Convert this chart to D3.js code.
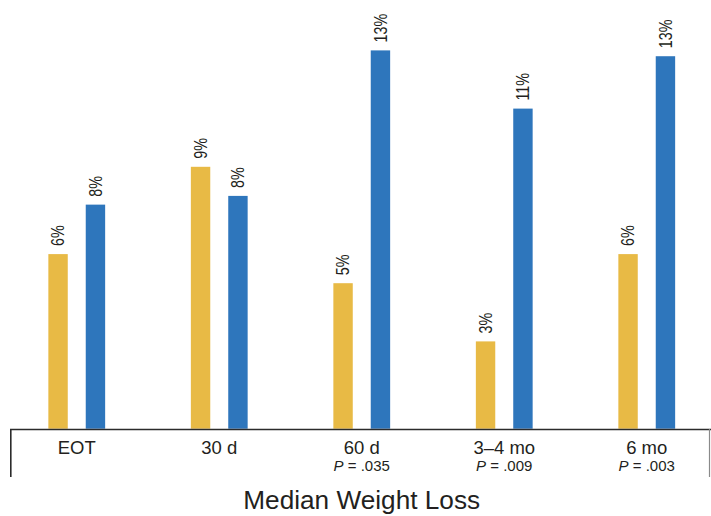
<!DOCTYPE html>
<html>
<head>
<meta charset="utf-8">
<script src="https://cdn.jsdelivr.net/npm/d3@7/dist/d3.min.js"></script>
<style>
  html, body { margin: 0; padding: 0; background: #fff; }
  svg { display: block; font-family: "Liberation Sans", Arial, Helvetica, sans-serif; }
</style>
</head>
<body>
<svg id="chart" width="711" height="516"></svg>
<script>
// Time points after end of treatment
const categories = ["EOT", "30 d", "60 d", "3\u20134 mo", "6 mo"];
const pValues = [null, null, ".035", ".009", ".003"];
// Median weight loss (%) for the two arms
const seriesNames = ["arm1", "arm2"];
const yellowValues = [6.0, 9.0, 5.0, 3.0, 6.0];
const blueValues = [7.7, 8.0, 13.0, 11.0, 12.8];
const colors = { arm1: "#E8BA45", arm2: "#2E76BC" };
const title = "Median Weight Loss";

const rows = categories.map((c, i) => ({
  cat: c, p: pValues[i],
  vals: [
    { key: "arm1", value: yellowValues[i] },
    { key: "arm2", value: blueValues[i] }
  ]
}));

const svg = d3.select("#chart");
const baseY = 428.7;

const x0 = d3.scaleBand().domain(categories).range([5.5, 718]).padding(0);
const x1 = d3.scaleBand().domain(seriesNames).range([-28.4, 28.4]).paddingInner(0.481).paddingOuter(0);
const y = d3.scaleLinear().domain([0, 14]).range([baseY, baseY - 14 * 29.1]);

const groups = svg.selectAll("g.grp").data(rows).join("g")
  .attr("class", "grp")
  .attr("transform", d => `translate(${x0(d.cat) + x0.bandwidth() / 2},0)`);

groups.selectAll("rect").data(d => d.vals).join("rect")
  .attr("x", d => x1(d.key))
  .attr("width", x1.bandwidth())
  .attr("y", d => y(d.value))
  .attr("height", d => y(0) - y(d.value))
  .attr("fill", d => colors[d.key]);

// Rotated value labels above each bar
groups.selectAll("text.val").data(d => d.vals).join("text")
  .attr("class", "val")
  .attr("transform", d => `translate(${x1(d.key) + x1.bandwidth() / 2},${y(d.value) - 8}) rotate(-90) scale(0.82,1)`)
  .attr("dy", "0.35em")
  .attr("text-anchor", "start")
  .attr("font-size", 17.5)
  .attr("fill", "#231f20")
  .text(d => `${Math.round(d.value)}%`);

// Axis frame
svg.append("line").attr("x1", 10).attr("x2", 711).attr("y1", 429.5).attr("y2", 429.5)
  .attr("stroke", "#2b2b2b").attr("stroke-width", 1.6);
svg.append("line").attr("x1", 10.8).attr("x2", 10.8).attr("y1", 429).attr("y2", 477)
  .attr("stroke", "#2b2b2b").attr("stroke-width", 1.6);
svg.append("line").attr("x1", 709.5).attr("x2", 709.5).attr("y1", 429).attr("y2", 477)
  .attr("stroke", "#8a8a8a").attr("stroke-width", 1.2);

// Category labels
const xAxis = d3.axisBottom(x0).tickSize(0).tickPadding(0);
const axisG = svg.append("g").attr("transform", `translate(0,${baseY})`).call(xAxis);
axisG.select(".domain").remove();
axisG.selectAll(".tick text")
  .attr("y", 25)
  .attr("dy", 0)
  .attr("font-size", 18.5)
  .attr("font-family", "'Liberation Sans', Arial, sans-serif")
  .attr("fill", "#231f20");

// P values under the later time points
axisG.selectAll(".tick").each(function (c, i) {
  if (!pValues[i]) return;
  const t = d3.select(this).append("text")
    .attr("y", 42.3)
    .attr("text-anchor", "middle")
    .attr("font-size", 15)
    .attr("font-family", "'Liberation Sans', Arial, sans-serif")
    .attr("fill", "#231f20");
  t.append("tspan").attr("font-style", "italic").text("P");
  t.append("tspan").text(" = " + pValues[i]);
});

svg.append("text")
  .attr("x", 361.7).attr("y", 509.3)
  .attr("text-anchor", "middle")
  .attr("font-size", 26.2)
  .attr("fill", "#231f20")
  .text(title);
</script>
</body>
</html>
